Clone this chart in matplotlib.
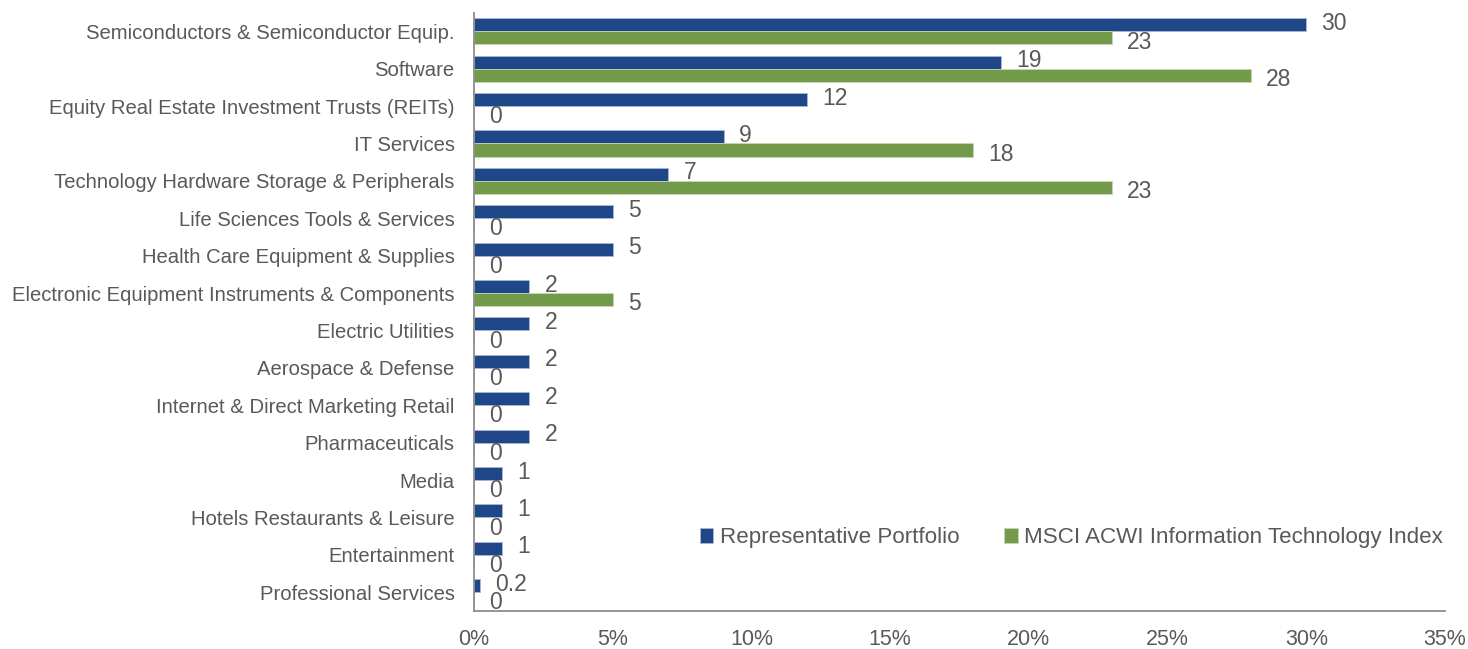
import numpy as np
import matplotlib.pyplot as plt
from matplotlib.ticker import FuncFormatter

categories = [
    "Semiconductors & Semiconductor Equip.",
    "Software",
    "Equity Real Estate Investment Trusts (REITs)",
    "IT Services",
    "Technology Hardware Storage & Peripherals",
    "Life Sciences Tools & Services",
    "Health Care Equipment & Supplies",
    "Electronic Equipment Instruments & Components",
    "Electric Utilities",
    "Aerospace & Defense",
    "Internet & Direct Marketing Retail",
    "Pharmaceuticals",
    "Media",
    "Hotels Restaurants & Leisure",
    "Entertainment",
    "Professional Services",
]
portfolio = [30, 19, 12, 9, 7, 5, 5, 2, 2, 2, 2, 2, 1, 1, 1, 0.2]
index_vals = [23, 28, 0, 18, 23, 0, 0, 5, 0, 0, 0, 0, 0, 0, 0, 0]
xticks = [0, 5, 10, 15, 20, 25, 30, 35]

blue = "#1f4788"
green = "#729a4a"
grey_text = "#595959"

plt.rcParams['font.family'] = ['Liberation Sans', 'DejaVu Sans']

fig = plt.figure(figsize=(14.68, 6.49), dpi=100)
ax = fig.add_axes([0.3229, 0.0586, 0.9843 - 0.3229, 0.9806 - 0.0586])

y = np.arange(len(categories))
h = 0.35
ax.barh(y - h / 2, portfolio, height=h, color=blue, edgecolor="#aab8d4",
        linewidth=0.6, label="Representative Portfolio")
ax.barh(y + h / 2, index_vals, height=h, color=green, edgecolor="#c5d6b3",
        linewidth=0.6, label="MSCI ACWI Information Technology Index")

# value labels just past the end of each bar
for yy, v in zip(y, portfolio):
    ax.annotate(f"{v:g}", (v, yy - h / 2), xytext=(11, 1), textcoords="offset points",
                va="center", ha="left", fontsize=16.5, color=grey_text)
for yy, v in zip(y, index_vals):
    ax.annotate(f"{v:g}", (v, yy + h / 2), xytext=(11, -3), textcoords="offset points",
                va="center", ha="left", fontsize=16.5, color=grey_text)

ax.set_xlim(0, 35)
ax.set_ylim(len(categories) - 0.5, -0.5)
ax.set_xticks(xticks)
ax.xaxis.set_major_formatter(FuncFormatter(lambda v, p: f"{v:.0f}%"))
ax.set_yticks(y, labels=categories)
ax.tick_params(axis="y", length=0, labelsize=14.6, labelcolor=grey_text, pad=14)
ax.tick_params(axis="x", length=0, labelsize=15.5, labelcolor=grey_text, pad=13)

for s in ["top", "right"]:
    ax.spines[s].set_visible(False)
for s in ["left", "bottom"]:
    ax.spines[s].set_color("#8c8c8c")
    ax.spines[s].set_linewidth(1.3)

ax.legend(loc="center right", bbox_to_anchor=(1.0075, 0.122), ncol=2, frameon=False,
          fontsize=16.1, labelcolor=grey_text, handlelength=0.6, handleheight=0.6,
          handletextpad=0.3, columnspacing=2.0, borderaxespad=0)

fig.savefig("out.png", dpi=100)
